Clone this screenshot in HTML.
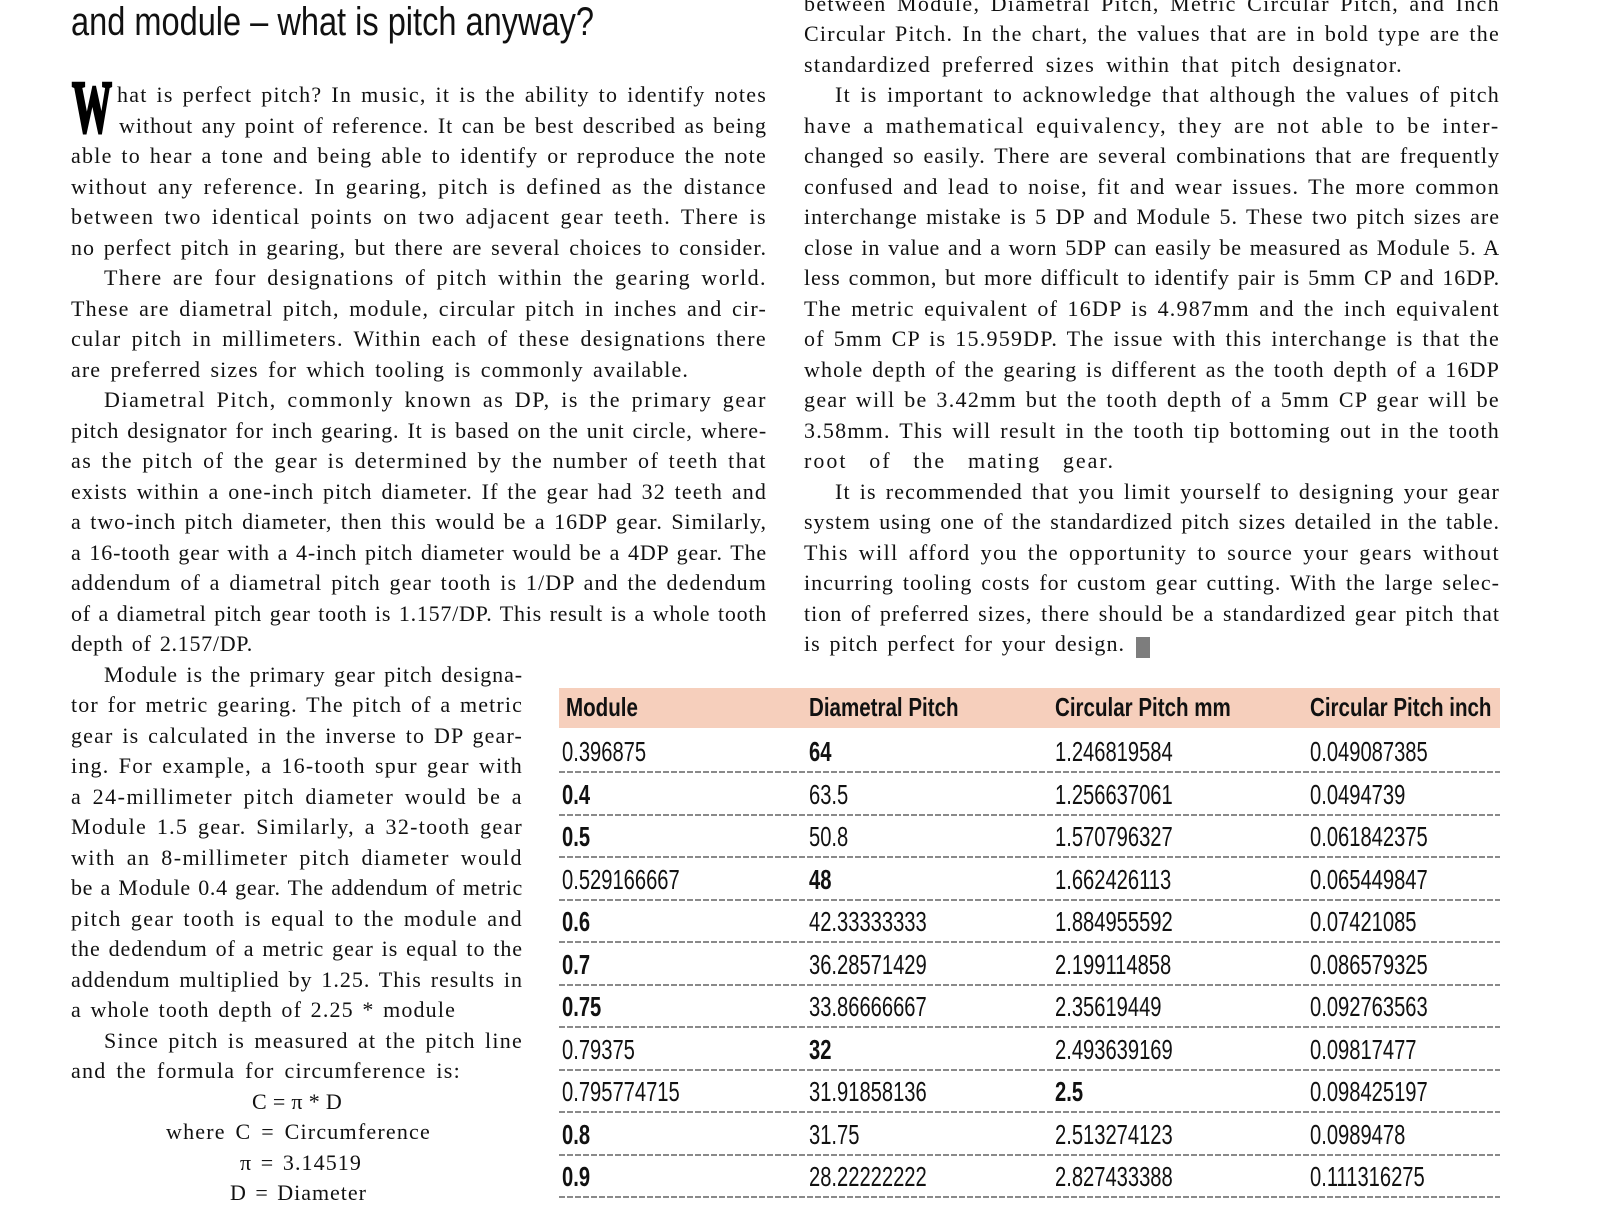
<!DOCTYPE html>
<html>
<head>
<meta charset="utf-8">
<style>
html,body{margin:0;padding:0;}
body{width:1600px;height:1200px;overflow:hidden;background:#fff;position:relative;}
.l{position:absolute;font-family:"Liberation Serif",serif;font-size:22px;line-height:30px;height:30px;overflow:hidden;color:#111;white-space:nowrap;text-align:left;}
.t{position:absolute;font-family:"Liberation Sans",sans-serif;font-size:28px;line-height:28px;color:#111;transform:scaleX(.72);transform-origin:0 0;white-space:nowrap;}
.h{position:absolute;font-family:"Liberation Sans",sans-serif;font-size:26px;line-height:26px;font-weight:bold;color:#111;transform:scaleX(.79);transform-origin:0 0;white-space:nowrap;}
.b{font-weight:bold;}
.d{position:absolute;left:559px;width:941px;height:2px;background:repeating-linear-gradient(90deg,#8a8a8a 0px,#8a8a8a 6px,transparent 6px,transparent 8px);}
#title{position:absolute;left:71px;top:2px;font-family:"Liberation Sans",sans-serif;font-size:40px;line-height:40px;color:#111;white-space:nowrap;transform-origin:0 0;transform:scaleX(.81);}
#drop{position:absolute;left:72px;top:71px;font-family:"Liberation Serif",serif;font-weight:bold;font-size:74px;line-height:74px;color:#000;-webkit-text-stroke:3px #000;transform:scaleX(.54);transform-origin:0 0;}
#band{position:absolute;left:559px;top:688px;width:941px;height:40px;background:#f6cfbc;}
#end{position:absolute;left:1136px;top:637px;width:14px;height:21px;background:#7d7d7d;}
</style>
</head>
<body>
<div id="title">and module – what is pitch anyway?</div>
<div id="drop">W</div>

<!-- Left column -->
<div class="l j" style="left:117px;width:650px;top:80px">hat is perfect pitch? In music, it is the ability to identify notes</div>
<div class="l j" style="left:119px;width:648px;top:110.5px">without any point of reference. It can be best described as being</div>
<div class="l j" style="left:71px;width:696px;top:141px">able to hear a tone and being able to identify or reproduce the note</div>
<div class="l j" style="left:71px;width:696px;top:171.5px">without any reference. In gearing, pitch is defined as the distance</div>
<div class="l j" style="left:71px;width:696px;top:202px">between two identical points on two adjacent gear teeth. There is</div>
<div class="l j" style="left:71px;width:696px;top:232.5px">no perfect pitch in gearing, but there are several choices to consider.</div>
<div class="l j" style="left:104px;width:663px;top:263px">There are four designations of pitch within the gearing world.</div>
<div class="l j" style="left:71px;width:696px;top:293.5px">These are diametral pitch, module, circular pitch in inches and cir-</div>
<div class="l j" style="left:71px;width:696px;top:324px">cular pitch in millimeters. Within each of these designations there</div>
<div class="l j" style="left:71px;width:618px;top:354.5px">are preferred sizes for which tooling is commonly available.</div>
<div class="l j" style="left:104px;width:663px;top:385px">Diametral Pitch, commonly known as DP, is the primary gear</div>
<div class="l j" style="left:71px;width:696px;top:415.5px">pitch designator for inch gearing. It is based on the unit circle, where-</div>
<div class="l j" style="left:71px;width:696px;top:446px">as the pitch of the gear is determined by the number of teeth that</div>
<div class="l j" style="left:71px;width:696px;top:476.5px">exists within a one-inch pitch diameter. If the gear had 32 teeth and</div>
<div class="l j" style="left:71px;width:696px;top:507px">a two-inch pitch diameter, then this would be a 16DP gear. Similarly,</div>
<div class="l j" style="left:71px;width:696px;top:537.5px">a 16-tooth gear with a 4-inch pitch diameter would be a 4DP gear. The</div>
<div class="l j" style="left:71px;width:696px;top:568px">addendum of a diametral pitch gear tooth is 1/DP and the dedendum</div>
<div class="l j" style="left:71px;width:696px;top:598.5px">of a diametral pitch gear tooth is 1.157/DP. This result is a whole tooth</div>
<div class="l j" style="left:71px;width:182px;top:629px">depth of 2.157/DP.</div>

<!-- Lower-left column -->
<div class="l j" style="left:104px;width:419px;top:659.5px">Module is the primary gear pitch designa-</div>
<div class="l j" style="left:71px;width:452px;top:690px">tor for metric gearing. The pitch of a metric</div>
<div class="l j" style="left:71px;width:452px;top:720.5px">gear is calculated in the inverse to DP gear-</div>
<div class="l j" style="left:71px;width:452px;top:751px">ing. For example, a 16-tooth spur gear with</div>
<div class="l j" style="left:71px;width:452px;top:781.5px">a 24-millimeter pitch diameter would be a</div>
<div class="l j" style="left:71px;width:452px;top:812px">Module 1.5 gear. Similarly, a 32-tooth gear</div>
<div class="l j" style="left:71px;width:452px;top:842.5px">with an 8-millimeter pitch diameter would</div>
<div class="l j" style="left:71px;width:452px;top:873px">be a Module 0.4 gear. The addendum of metric</div>
<div class="l j" style="left:71px;width:452px;top:903.5px">pitch gear tooth is equal to the module and</div>
<div class="l j" style="left:71px;width:452px;top:934px">the dedendum of a metric gear is equal to the</div>
<div class="l j" style="left:71px;width:452px;top:964.5px">addendum multiplied by 1.25. This results in</div>
<div class="l j" style="left:71px;width:385px;top:995px">a whole tooth depth of 2.25 * module</div>
<div class="l j" style="left:104px;width:419px;top:1025.5px">Since pitch is measured at the pitch line</div>
<div class="l j" style="left:71px;width:390px;top:1056px">and the formula for circumference is:</div>
<div class="l j" style="left:252px;width:90px;top:1086.5px">C = π * D</div>
<div class="l j" style="left:166px;width:265px;top:1117px">where C = Circumference</div>
<div class="l j" style="left:240px;width:122px;top:1147.5px">π = 3.14519</div>
<div class="l j" style="left:230px;width:137px;top:1178px">D = Diameter</div>

<!-- Right column -->
<div class="l j" style="left:804px;width:696px;top:-11.5px">between Module, Diametral Pitch, Metric Circular Pitch, and Inch</div>
<div class="l j" style="left:804px;width:696px;top:19px">Circular Pitch. In the chart, the values that are in bold type are the</div>
<div class="l j" style="left:804px;width:599px;top:49.5px">standardized preferred sizes within that pitch designator.</div>
<div class="l j" style="left:835px;width:665px;top:80px">It is important to acknowledge that although the values of pitch</div>
<div class="l j" style="left:804px;width:696px;top:110.5px">have a mathematical equivalency, they are not able to be inter-</div>
<div class="l j" style="left:804px;width:696px;top:141px">changed so easily. There are several combinations that are frequently</div>
<div class="l j" style="left:804px;width:696px;top:171.5px">confused and lead to noise, fit and wear issues. The more common</div>
<div class="l j" style="left:804px;width:696px;top:202px">interchange mistake is 5 DP and Module 5. These two pitch sizes are</div>
<div class="l j" style="left:804px;width:696px;top:232.5px">close in value and a worn 5DP can easily be measured as Module 5. A</div>
<div class="l j" style="left:804px;width:696px;top:263px">less common, but more difficult to identify pair is 5mm CP and 16DP.</div>
<div class="l j" style="left:804px;width:696px;top:293.5px">The metric equivalent of 16DP is 4.987mm and the inch equivalent</div>
<div class="l j" style="left:804px;width:696px;top:324px">of 5mm CP is 15.959DP. The issue with this interchange is that the</div>
<div class="l j" style="left:804px;width:696px;top:354.5px">whole depth of the gearing is different as the tooth depth of a 16DP</div>
<div class="l j" style="left:804px;width:696px;top:385px">gear will be 3.42mm but the tooth depth of a 5mm CP gear will be</div>
<div class="l j" style="left:804px;width:696px;top:415.5px">3.58mm. This will result in the tooth tip bottoming out in the tooth</div>
<div class="l j" style="left:804px;width:311px;top:446px">root of the mating gear.</div>
<div class="l j" style="left:835px;width:665px;top:476.5px">It is recommended that you limit yourself to designing your gear</div>
<div class="l j" style="left:804px;width:696px;top:507px">system using one of the standardized pitch sizes detailed in the table.</div>
<div class="l j" style="left:804px;width:696px;top:537.5px">This will afford you the opportunity to source your gears without</div>
<div class="l j" style="left:804px;width:696px;top:568px">incurring tooling costs for custom gear cutting. With the large selec-</div>
<div class="l j" style="left:804px;width:696px;top:598.5px">tion of preferred sizes, there should be a standardized gear pitch that</div>
<div class="l j" style="left:804px;width:321px;top:629px">is pitch perfect for your design.</div>
<div id="end"></div>

<!-- Table -->
<div id="band"></div>
<div class="h" style="left:566px;top:693.5px">Module</div>
<div class="h" style="left:809px;top:693.5px">Diametral Pitch</div>
<div class="h" style="left:1055px;top:693.5px">Circular Pitch mm</div>
<div class="h" style="left:1310px;top:693.5px">Circular Pitch inch</div>

<div class="t" style="left:562px;top:738px">0.396875</div>
<div class="t b" style="left:809px;top:738px">64</div>
<div class="t" style="left:1055px;top:738px">1.246819584</div>
<div class="t" style="left:1310px;top:738px">0.049087385</div>
<div class="d" style="top:771px"></div>

<div class="t b" style="left:562px;top:780.5px">0.4</div>
<div class="t" style="left:809px;top:780.5px">63.5</div>
<div class="t" style="left:1055px;top:780.5px">1.256637061</div>
<div class="t" style="left:1310px;top:780.5px">0.0494739</div>
<div class="d" style="top:813.5px"></div>

<div class="t b" style="left:562px;top:823px">0.5</div>
<div class="t" style="left:809px;top:823px">50.8</div>
<div class="t" style="left:1055px;top:823px">1.570796327</div>
<div class="t" style="left:1310px;top:823px">0.061842375</div>
<div class="d" style="top:856px"></div>

<div class="t" style="left:562px;top:865.5px">0.529166667</div>
<div class="t b" style="left:809px;top:865.5px">48</div>
<div class="t" style="left:1055px;top:865.5px">1.662426113</div>
<div class="t" style="left:1310px;top:865.5px">0.065449847</div>
<div class="d" style="top:898.5px"></div>

<div class="t b" style="left:562px;top:908px">0.6</div>
<div class="t" style="left:809px;top:908px">42.33333333</div>
<div class="t" style="left:1055px;top:908px">1.884955592</div>
<div class="t" style="left:1310px;top:908px">0.07421085</div>
<div class="d" style="top:941px"></div>

<div class="t b" style="left:562px;top:950.5px">0.7</div>
<div class="t" style="left:809px;top:950.5px">36.28571429</div>
<div class="t" style="left:1055px;top:950.5px">2.199114858</div>
<div class="t" style="left:1310px;top:950.5px">0.086579325</div>
<div class="d" style="top:983.5px"></div>

<div class="t b" style="left:562px;top:993px">0.75</div>
<div class="t" style="left:809px;top:993px">33.86666667</div>
<div class="t" style="left:1055px;top:993px">2.35619449</div>
<div class="t" style="left:1310px;top:993px">0.092763563</div>
<div class="d" style="top:1026px"></div>

<div class="t" style="left:562px;top:1035.5px">0.79375</div>
<div class="t b" style="left:809px;top:1035.5px">32</div>
<div class="t" style="left:1055px;top:1035.5px">2.493639169</div>
<div class="t" style="left:1310px;top:1035.5px">0.09817477</div>
<div class="d" style="top:1068.5px"></div>

<div class="t" style="left:562px;top:1078px">0.795774715</div>
<div class="t" style="left:809px;top:1078px">31.91858136</div>
<div class="t b" style="left:1055px;top:1078px">2.5</div>
<div class="t" style="left:1310px;top:1078px">0.098425197</div>
<div class="d" style="top:1111px"></div>

<div class="t b" style="left:562px;top:1120.5px">0.8</div>
<div class="t" style="left:809px;top:1120.5px">31.75</div>
<div class="t" style="left:1055px;top:1120.5px">2.513274123</div>
<div class="t" style="left:1310px;top:1120.5px">0.0989478</div>
<div class="d" style="top:1153.5px"></div>

<div class="t b" style="left:562px;top:1163px">0.9</div>
<div class="t" style="left:809px;top:1163px">28.22222222</div>
<div class="t" style="left:1055px;top:1163px">2.827433388</div>
<div class="t" style="left:1310px;top:1163px">0.111316275</div>
<div class="d" style="top:1196px"></div>

<script>
(function(){
  var t=document.getElementById('title');
  t.style.transform='none';
  var r0=document.createRange(); r0.selectNodeContents(t);
  var tw=r0.getBoundingClientRect().width;
  if(tw>0){t.style.transform='scaleX('+(523/tw)+')';}
  var els=document.querySelectorAll('.j');
  for(var i=0;i<els.length;i++){
    var el=els[i];
    var w=el.clientWidth;
    var r=document.createRange(); r.selectNodeContents(el);
    var nat=r.getBoundingClientRect().width;
    var n=el.textContent.length;
    var ls;
    if(nat>w*0.97){ls=(w*0.97-nat)/n;}else{ls=(w-nat)/n*0.75;}
    if(ls<-2.5)ls=-2.5; if(ls>2.0)ls=2.0;
    el.style.letterSpacing=ls+'px';
    el.style.whiteSpace='normal';
    el.style.textAlign='justify';
    el.style.textAlignLast='justify';
  }
})();
</script>
</body>
</html>
